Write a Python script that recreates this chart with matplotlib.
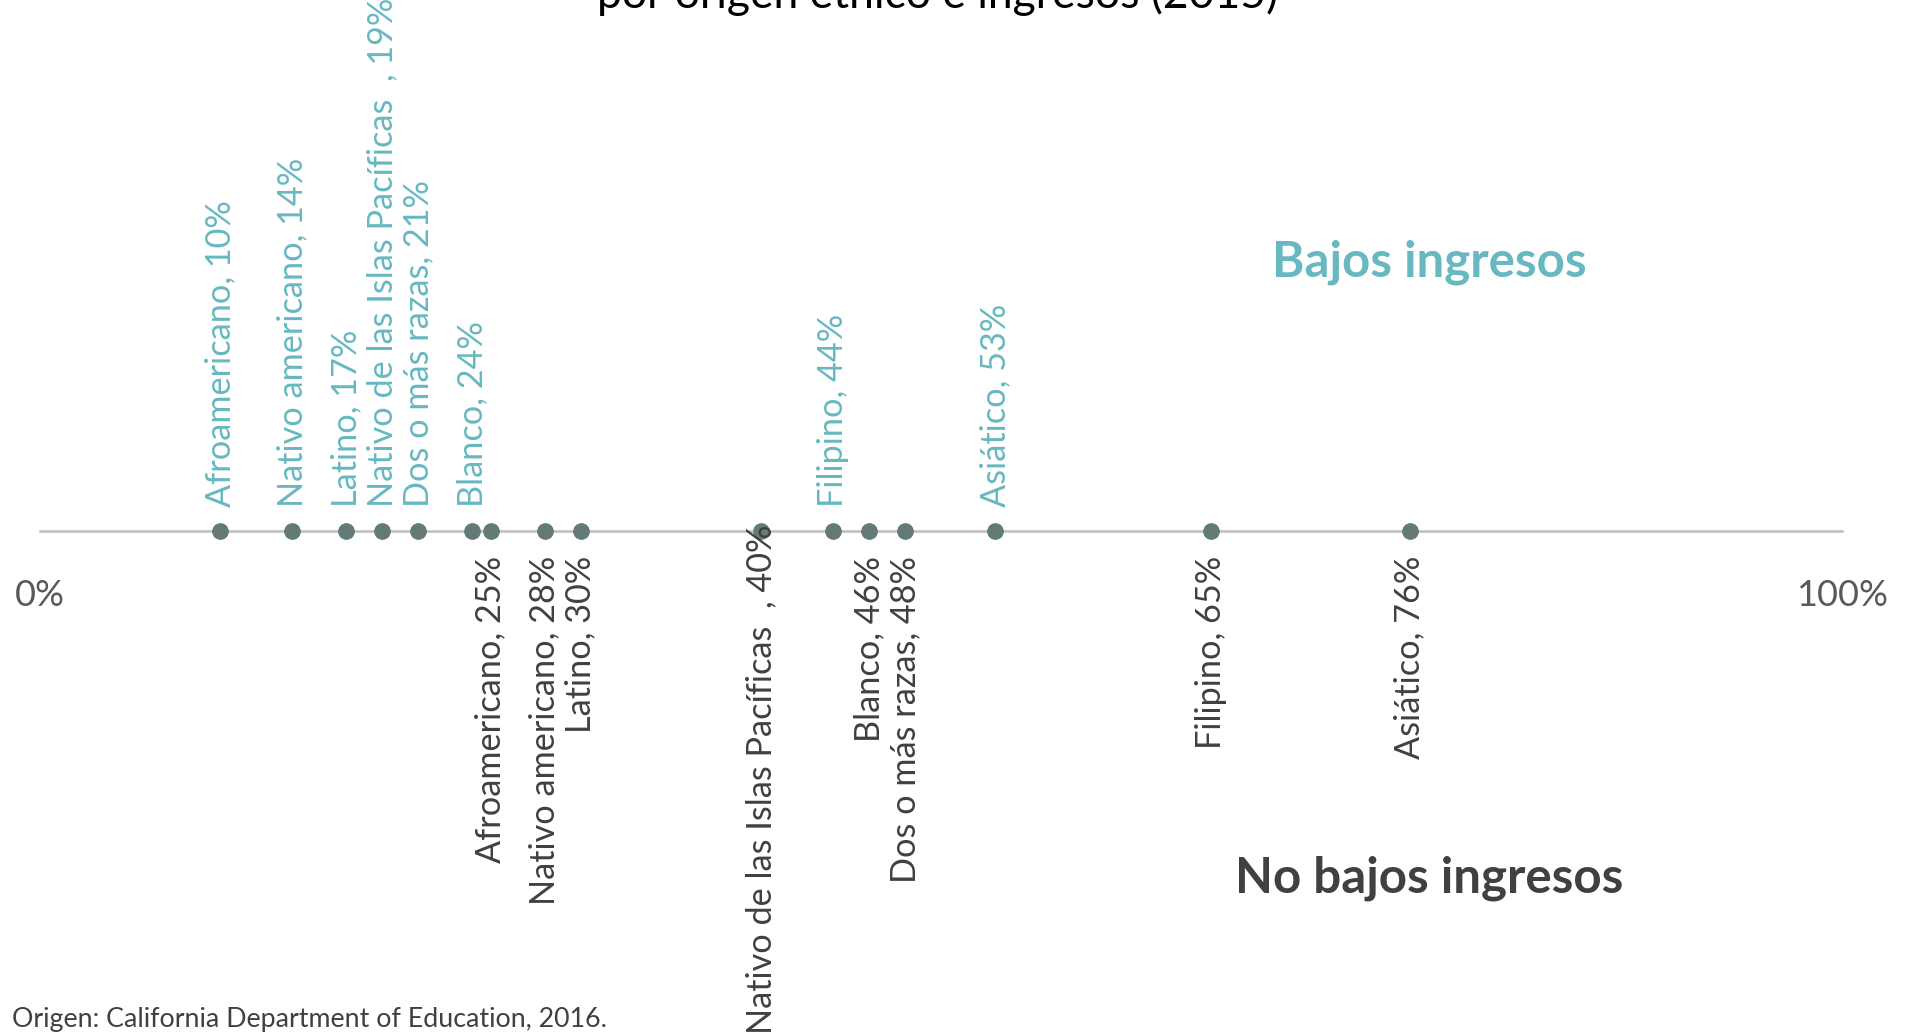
import matplotlib.pyplot as plt
import numpy as np

plt.rcParams['font.family'] = ['Lato', 'DejaVu Sans']

# low income (top labels)
low_names = ['Afroamericano', 'Nativo americano', 'Latino', 'Nativo de las Islas Pacíficas  ',
             'Dos o más razas', 'Blanco', 'Filipino', 'Asiático']
low_vals = [10, 14, 17, 19, 21, 24, 44, 53]

# not low income (bottom labels)
high_names = ['Afroamericano', 'Nativo americano', 'Latino', 'Nativo de las Islas Pacíficas  ',
              'Blanco', 'Dos o más razas', 'Filipino', 'Asiático']
high_vals = [25, 28, 30, 40, 46, 48, 65, 76]

tick_vals = [0, 100]
tick_labels = ['0%', '100%']

teal = '#67B8C1'
dark = '#404040'
dot = '#637A76'

W, H = 1916, 1036
fig = plt.figure(figsize=(W / 100, H / 100), dpi=100)
ax = fig.add_axes([0, 0, 1, 1])
# map 0..100 onto pixels 40..1842, y in pixels from top
x0, x1 = 40, 1842
k = 100 / (x1 - x0)
ax.set_xlim(-x0 * k, 100 + (W - x1) * k)
ax.set_ylim(H, 0)
ax.axis('off')

line_y = 531
ax.plot([0, 100], [line_y, line_y], color='#BFBFBF', lw=1.8, zorder=1)

all_vals = low_vals + high_vals
ax.plot(all_vals, [line_y] * len(all_vals), 'o', color=dot, ms=11, zorder=3)

for n, v in zip(low_names, low_vals):
    ax.text(v, 507, f'{n}, {v}%', rotation=90, ha='center', va='bottom',
            color=teal, fontsize=24.7)

nudge = {40: -32}
for n, v in zip(high_names, high_vals):
    ax.text(v, 556 + nudge.get(v, 0), f'{n}, {v}%', rotation=90, ha='center', va='top',
            color='#404040', fontsize=24.7, zorder=4)

for v, t in zip(tick_vals, tick_labels):
    ax.text(v, 596, t, ha='center', va='center', color='#595959', fontsize=26)

ax.text(77.1, 262, 'Bajos ingresos', ha='center', va='center', color=teal,
        fontsize=35.5, fontweight='bold')
ax.text(77.1, 878, 'No bajos ingresos', ha='center', va='center', color=dark,
        fontsize=35.5, fontweight='bold')

ax.text(49.8, 8, 'por origen étnico e ingresos (2015)', ha='center', va='baseline',
        color='black', fontsize=32)

ax.text(12 * k - x0 * k, 1020, 'Origen: California Department of Education, 2016.',
        ha='left', va='center', color=dark, fontsize=19.3)

fig.savefig('out.png', dpi=100)
